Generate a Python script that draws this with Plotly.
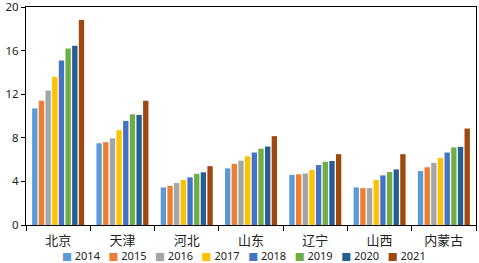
import plotly.graph_objects as go

categories = ["北京", "天津", "河北", "山东", "辽宁", "山西", "内蒙古"]
years = ["2014", "2015", "2016", "2017", "2018", "2019", "2020", "2021"]
v2014 = [10.7, 7.5, 3.45, 5.2, 4.6, 3.45, 4.95]
v2015 = [11.4, 7.6, 3.6, 5.6, 4.65, 3.38, 5.3]
v2016 = [12.35, 7.95, 3.85, 5.9, 4.72, 3.38, 5.7]
v2017 = [13.6, 8.7, 4.13, 6.3, 5.05, 4.13, 6.15]
v2018 = [15.1, 9.55, 4.37, 6.65, 5.5, 4.55, 6.65]
v2019 = [16.2, 10.15, 4.7, 7.0, 5.8, 4.86, 7.12]
v2020 = [16.45, 10.1, 4.83, 7.2, 5.87, 5.1, 7.17]
v2021 = [18.8, 11.4, 5.4, 8.15, 6.5, 6.5, 8.85]
series = [v2014, v2015, v2016, v2017, v2018, v2019, v2020, v2021]
colors = ["#5B9BD5", "#ED7D31", "#A5A5A5", "#FFC000", "#4472C4", "#70AD47", "#255E91", "#9E480E"]

fig = go.Figure()
for y, vals, c in zip(years, series, colors):
    fig.add_trace(go.Bar(name=y, x=categories, y=vals, marker=dict(color=c, line=dict(width=0))))

# compact one-row legend (built from the same year/colour lists)
legend_text = "\u00a0\u00a0\u00a0".join(
    f'<span style="color:{c};font-size:10.5px">■</span>\u00a0{y}' for y, c in zip(years, colors)
)
fig.add_annotation(text=legend_text, xref="paper", yref="paper", x=0.484, y=-0.138,
                   xanchor="center", yanchor="middle", showarrow=False,
                   font=dict(size=11, color="#222", family="Noto Sans, DejaVu Sans"))

font = "Noto Sans, Noto Sans CJK SC, sans-serif"
fig.update_layout(
    width=479, height=263,
    margin=dict(l=26, r=3, t=7, b=38, autoexpand=False),
    paper_bgcolor="white", plot_bgcolor="white",
    barmode="group", bargap=0.17, bargroupgap=0.2,
    font=dict(family=font, size=12, color="#222"),
    showlegend=False,
    xaxis=dict(type="category", showline=True, linecolor="black", linewidth=1, mirror=True,
               ticks="outside", tickson="boundaries", ticklen=5, tickcolor="black",
               ticklabelstandoff=3,
               tickfont=dict(size=13, family="Noto Sans CJK SC"), showgrid=False, automargin=False),
    yaxis=dict(range=[0, 20], dtick=4, showline=True, linecolor="black", linewidth=1, mirror=True,
               ticks="outside", ticklen=4, tickcolor="black", showgrid=False, zeroline=False,
               tickfont=dict(size=11.5), ticklabeloverflow="allow", automargin=False),
)
fig.write_html("out.html", config={"displayModeBar": False},
               post_script="document.body.style.margin='0';document.body.style.overflow='hidden';")
